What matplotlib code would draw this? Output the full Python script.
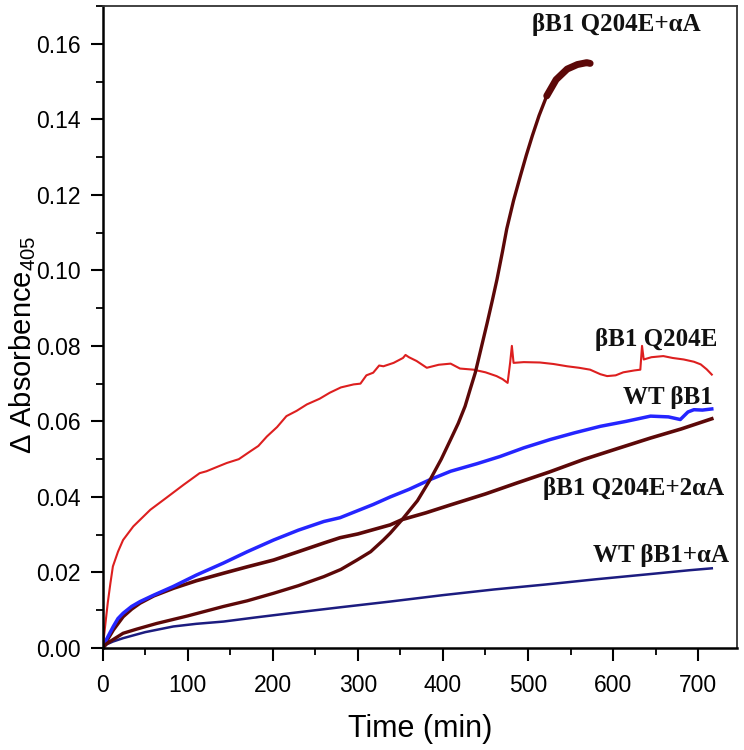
import matplotlib
matplotlib.use('Agg')
import matplotlib.pyplot as plt
from matplotlib.ticker import MultipleLocator

plt.rcParams['mathtext.fontset'] = 'custom'
plt.rcParams['mathtext.rm'] = 'Liberation Sans'

# --- data (time in min, delta absorbance) ---
t_q204e = [0, 3, 6, 9, 12, 18, 24, 36, 56, 75, 95, 114, 122, 135, 146, 160, 173, 183,
           193, 205, 216, 228, 240, 255, 267, 280, 295, 303, 310, 318, 325, 330, 342,
           353, 356, 360, 369, 381, 395, 409, 420, 436, 450, 463, 470, 476, 479, 481,
           483, 495, 514, 530, 546, 560, 573, 585, 593, 603, 612, 625, 632, 634, 636,
           645, 659, 670, 683, 695, 703, 710, 716]
a_q204e = [0, 0.006, 0.012, 0.017, 0.0216, 0.0255, 0.0286, 0.0322, 0.0366, 0.0398, 0.0432,
           0.0463, 0.0468, 0.0480, 0.0490, 0.0500, 0.0520, 0.0535, 0.0560, 0.0585, 0.0614,
           0.0628, 0.0645, 0.0660, 0.0676, 0.0690, 0.0698, 0.0700, 0.0722, 0.0729, 0.0748,
           0.0746, 0.0755, 0.0768, 0.0776, 0.0770, 0.0760, 0.0742, 0.0750, 0.0753, 0.0740,
           0.0737, 0.0730, 0.0720, 0.0712, 0.0702, 0.0756, 0.0800, 0.0755, 0.0757, 0.0756,
           0.0752, 0.0746, 0.0742, 0.0737, 0.0725, 0.0720, 0.0722, 0.0730, 0.0735, 0.0737,
           0.0800, 0.0764, 0.0770, 0.0773, 0.0768, 0.0764, 0.0758, 0.0751, 0.0738, 0.0724]

t_wt = [0, 5, 12.5, 18, 24, 34, 44, 60, 83, 110, 142, 170, 201, 230, 260, 279, 318, 338,
        360, 385, 409, 440, 467, 495, 526, 555, 585, 615, 644, 665, 679, 688, 695, 705, 716]
a_wt = [0, 0.0025, 0.0057, 0.0078, 0.0092, 0.0110, 0.0123, 0.0140, 0.0163, 0.0193, 0.0225,
        0.0255, 0.0286, 0.0312, 0.0335, 0.0345, 0.0380, 0.0400, 0.0420, 0.0446, 0.0468,
        0.0488, 0.0507, 0.0530, 0.0552, 0.0570, 0.0587, 0.0600, 0.0614, 0.0612, 0.0605,
        0.0625, 0.0631, 0.0630, 0.0633]

t_q204e_2aa = [0, 5, 12.5, 24, 34, 44, 60, 83, 110, 142, 170, 201, 230, 260, 279, 300,
               338, 352, 380, 409, 450, 487, 525, 565, 605, 644, 680, 716]
a_q204e_2aa = [0, 0.0020, 0.0048, 0.0083, 0.0103, 0.0119, 0.0138, 0.0158, 0.0178, 0.0198,
               0.0215, 0.0233, 0.0255, 0.0278, 0.0292, 0.0302, 0.0326, 0.0340, 0.0358,
               0.0379, 0.0408, 0.0437, 0.0466, 0.0499, 0.0528, 0.0556, 0.0580, 0.0607]

t_q204e_aa = [0, 5, 12, 24, 40, 63.5, 100, 142, 170, 201, 230, 260, 280, 299, 315, 330,
              338, 352, 370, 385, 398, 409, 418, 426, 432, 438, 445, 452, 458, 463.5, 470,
              475, 483, 491, 498, 505, 513, 522, 533, 546, 558, 569, 573]
a_q204e_aa = [0, 0.0012, 0.0022, 0.0039, 0.0050, 0.0065, 0.0085, 0.0110, 0.0125, 0.0145,
              0.0165, 0.0189, 0.0208, 0.0233, 0.0255, 0.0286, 0.0304, 0.0340, 0.0390,
              0.0446, 0.0500, 0.0552, 0.0595, 0.0640, 0.0685, 0.0729, 0.0795, 0.0861,
              0.0920, 0.0976, 0.1050, 0.1110, 0.1185, 0.1250, 0.1305, 0.1356, 0.1410,
              0.1462, 0.1505, 0.1533, 0.1545, 0.1550, 0.1548]

t_wt_aa = [0, 5, 12, 24, 50, 83, 110, 142, 180, 220, 280, 338, 400, 460, 520, 580, 640, 690, 716]
a_wt_aa = [0, 0.0010, 0.0017, 0.0026, 0.0042, 0.0057, 0.0064, 0.0070, 0.0081, 0.0092,
           0.0108, 0.0123, 0.0140, 0.0155, 0.0168, 0.0182, 0.0195, 0.0206, 0.0211]

labels = ['βB1 Q204E+αA', 'βB1 Q204E', 'WT βB1', 'βB1 Q204E+2αA', 'WT βB1+αA']
label_pos = [(505, 0.1634), (579, 0.0799), (612, 0.0647), (518, 0.0406), (576, 0.0228)]

fig = plt.figure(figsize=(7.44, 7.5), dpi=100)
ax = fig.add_axes([0.138, 0.136, 0.853, 0.856])

ax.plot(t_wt_aa, a_wt_aa, color='#1c1c80', lw=1.8)
ax.plot(t_q204e_2aa, a_q204e_2aa, color='#5c0808', lw=2.6)
ax.plot(t_wt, a_wt, color='#2525ff', lw=2.5)
ax.plot(t_q204e, a_q204e, color='#dd1f1f', lw=1.5)
ax.plot(t_q204e_aa, a_q204e_aa, color='#5c0808', lw=2.4)
# noisy plateau at the end of the sigmoid looks thicker
ax.plot(t_q204e_aa[-6:], a_q204e_aa[-6:], color='#5c0808', lw=5, solid_capstyle='round')

ax.set_xlim(0, 746)
ax.set_ylim(0, 0.170)
ax.xaxis.set_major_locator(MultipleLocator(100))
ax.xaxis.set_minor_locator(MultipleLocator(50))
ax.yaxis.set_major_locator(MultipleLocator(0.02))
ax.yaxis.set_minor_locator(MultipleLocator(0.01))
ax.yaxis.set_major_formatter(matplotlib.ticker.FormatStrFormatter('%.2f'))

tickfont = ['Liberation Sans', 'DejaVu Sans']
ax.tick_params(which='major', direction='out', length=9, width=1.5, pad=7)
ax.tick_params(which='minor', direction='out', length=5, width=1.3)
ax.tick_params(axis='x', which='major', pad=10)
for lab in ax.get_xticklabels() + ax.get_yticklabels():
    lab.set_family(tickfont)
    lab.set_fontsize(16.5)
for side in ['left', 'bottom']:
    ax.spines[side].set_linewidth(1.8)
for side in ['top', 'right']:
    ax.spines[side].set_linewidth(1.3)
    ax.spines[side].set_color('#333333')

ax.set_xlabel('Time (min)', family=tickfont, fontsize=22, labelpad=12)
fig.text(0.03, 0.54, 'Δ Absorbence$_{\\mathrm{405}}$', rotation=90, ha='center', va='center',
         family=['Liberation Sans', 'DejaVu Sans'], fontsize=21)

for txt, (x, y) in zip(labels, label_pos):
    ax.text(x, y, txt, ha='left', va='baseline', fontsize=18, fontweight='bold',
            family=['Liberation Serif', 'DejaVu Serif'], color='#111111')

fig.savefig('out.png', dpi=100)
